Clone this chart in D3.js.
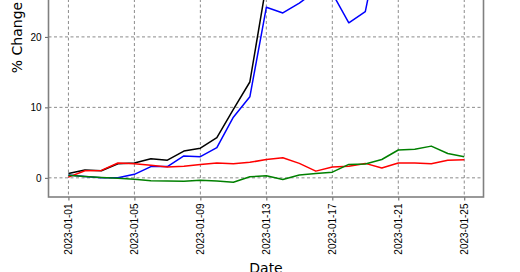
<!DOCTYPE html>
<html><head><meta charset="utf-8">
<script src="https://cdn.jsdelivr.net/npm/d3@7"></script>
<style>
html,body{margin:0;padding:0;background:#fff;}
svg{display:block;font-family:"DejaVu Sans",sans-serif;}
</style></head>
<body>
<svg id="chart" width="520" height="272"></svg>
<script>
const dates = ["2023-01-01","2023-01-02","2023-01-03","2023-01-04","2023-01-05","2023-01-06","2023-01-07","2023-01-08","2023-01-09","2023-01-10","2023-01-11","2023-01-12","2023-01-13","2023-01-14","2023-01-15","2023-01-16","2023-01-17","2023-01-18","2023-01-19","2023-01-20","2023-01-21","2023-01-22","2023-01-23","2023-01-24","2023-01-25"];
const blackSeries = [0.6,1.1,1.0,2.0,2.1,2.7,2.5,3.8,4.2,5.7,9.7,13.6,27.5,27.0,28.5,30.0,29.5,25.5,27.0,38.0,40.4,39.0,37.5,36.0,35.0];
const blueSeries  = [0.4,0.2,0.0,0.0,0.5,1.6,1.6,3.1,3.0,4.3,8.6,11.5,24.2,23.4,24.8,26.5,26.2,22.0,23.6,35.0,37.0,36.0,34.5,33.0,32.0];
const redSeries   = [0.1,1.0,1.05,2.1,2.0,1.8,1.55,1.65,1.9,2.1,2.0,2.2,2.6,2.85,2.05,0.95,1.55,1.65,2.05,1.4,2.1,2.1,2.0,2.5,2.55];
const greenSeries = [0.35,0.2,0.05,-0.05,-0.2,-0.4,-0.45,-0.5,-0.35,-0.45,-0.62,0.15,0.3,-0.25,0.4,0.6,0.8,1.9,1.95,2.6,3.95,4.05,4.5,3.45,3.0];
const xTickLabels = ["2023-01-01","2023-01-05","2023-01-09","2023-01-13","2023-01-17","2023-01-21","2023-01-25"];
const yTicks = [0,10,20];
const seriesList = [
  {name:"black", values: blackSeries, color:"#000000"},
  {name:"blue", values: blueSeries, color:"#0000ff"},
  {name:"red", values: redSeries, color:"#ff0000"},
  {name:"green", values: greenSeries, color:"#008000"}
];

const parse = d3.utcParse("%Y-%m-%d");
const fmt = d3.utcFormat("%Y-%m-%d");
const svg = d3.select("#chart");
const pLeft = 48.5, pRight = 483.5, pTop = -122, pBottom = 197;

const x = d3.scaleUtc()
  .domain([d3.utcHour.offset(parse(dates[0]), -28.8), d3.utcHour.offset(parse(dates[dates.length-1]), 28.8)])
  .range([pLeft, pRight]);
const y = d3.scaleLinear().domain([-2.72, 42.55]).range([pBottom, pTop]);

// grid
const grid = svg.append("g");
grid.selectAll("line.vx").data(xTickLabels).enter().append("line")
  .attr("x1", d => x(parse(d))).attr("x2", d => x(parse(d)))
  .attr("y1", pTop).attr("y2", pBottom)
  .attr("stroke", "#7f7f7f").attr("stroke-width", 0.9).attr("stroke-dasharray", "3,2.5");
grid.selectAll("line.hy").data(y.ticks(5)).enter().append("line")
  .attr("x1", pLeft).attr("x2", pRight)
  .attr("y1", d => y(d)).attr("y2", d => y(d))
  .attr("stroke", "#7f7f7f").attr("stroke-width", 0.9).attr("stroke-dasharray", "3,2.5");

// lines
const line = d3.line().x((d,i) => x(parse(dates[i]))).y(d => y(d));
svg.append("g").selectAll("path").data(seriesList).enter().append("path")
  .attr("d", d => line(d.values))
  .attr("fill", "none").attr("stroke", d => d.color).attr("stroke-width", 1.5)
  .attr("stroke-linejoin", "round");

// axes
const xAxis = d3.axisBottom(x).tickValues(xTickLabels.map(parse)).tickFormat(fmt).tickSize(3.5).tickSizeOuter(0).tickPadding(3.5);
const gx = svg.append("g").attr("transform", `translate(0,${pBottom})`).call(xAxis);
gx.select(".domain").remove();
gx.selectAll(".tick line").attr("stroke", "#333").attr("stroke-width", 0.8);
gx.selectAll(".tick text")
  .attr("font-size", 10).attr("fill", "#000")
  .attr("transform", "rotate(-90)")
  .attr("text-anchor", "end").attr("dy", "0.35em")
  .attr("x", -6.5).attr("y", 0);

const yAxis = d3.axisLeft(y).tickValues(yTicks).tickSize(3.5).tickSizeOuter(0).tickPadding(3.5);
const gy = svg.append("g").attr("transform", `translate(${pLeft},0)`).call(yAxis);
gy.select(".domain").remove();
gy.selectAll(".tick line").attr("stroke", "#333").attr("stroke-width", 0.8);
gy.selectAll(".tick text").attr("font-size", 10).attr("fill", "#000");

// frame
svg.append("rect").attr("x", pLeft).attr("y", pTop).attr("width", pRight-pLeft).attr("height", pBottom-pTop)
  .attr("fill", "none").attr("stroke", "#808080").attr("stroke-width", 1.6);

// labels
svg.append("text").attr("x", (pLeft+pRight)/2).attr("y", 273).attr("text-anchor", "middle")
  .attr("font-size", 14).text("Date");
svg.append("text").attr("transform", `translate(22,${(pTop+pBottom)/2}) rotate(-90)`)
  .attr("text-anchor", "middle").attr("font-size", 14).text("% Change");
</script>
</body></html>
